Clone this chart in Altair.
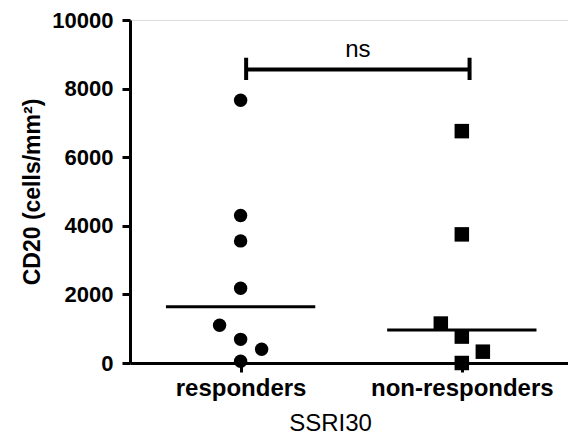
import altair as alt
import pandas as pd
import numpy as np

# ---- data ----
groups = ["responders", "non-responders"]
group_pos = [1, 3]

resp_values = [7660, 4300, 3560, 2180, 1100, 690, 400, 50]
resp_jitter = [0, 0, 0, 0, -0.19, 0, 0.19, 0]

nonresp_values = [6760, 3750, 1150, 770, 330, 0]
nonresp_jitter = [0, 0, -0.19, 0, 0.19, 0]

median_halfwidth = 0.675
bracket_x = [1.05, 3.07]
bracket_y = 8560
bracket_tick = [8250, 8900]
bracket_label = "ns"
label_y = 9130

y_ticks = [0, 2000, 4000, 6000, 8000, 10000]

FONT = "Liberation Sans"

resp_df = pd.DataFrame({
    "x": [group_pos[0] + j for j in resp_jitter],
    "y": resp_values,
})
nonresp_df = pd.DataFrame({
    "x": [group_pos[1] + j for j in nonresp_jitter],
    "y": nonresp_values,
})
med_df = pd.DataFrame({
    "x": [p - median_halfwidth for p in group_pos],
    "x2": [p + median_halfwidth for p in group_pos],
    "y": [float(np.median(resp_values)), float(np.median(nonresp_values))],
})
br_h = pd.DataFrame({"x": [bracket_x[0]], "x2": [bracket_x[1]], "y": [bracket_y]})
br_v = pd.DataFrame({"x": bracket_x, "y": [bracket_tick[0]] * 2, "y2": [bracket_tick[1]] * 2})
txt = pd.DataFrame({"x": [sum(bracket_x) / 2], "y": [label_y], "t": [bracket_label]})

xscale = alt.Scale(domain=[0, 3.96], nice=False, zero=False)
yscale = alt.Scale(domain=[0, 10000], nice=False)

label_expr = "datum.value == %d ? '%s' : '%s'" % (group_pos[0], groups[0], groups[1])

x_axis = alt.Axis(
    values=group_pos, labelExpr=label_expr, title="SSRI30",
    grid=False, domainWidth=3, domainColor="black", tickWidth=3, tickColor="black",
    tickSize=9, labelFont=FONT, labelFontSize=24, labelFontWeight="bold", labelColor="black",
    labelPadding=4, labelLimit=0, titleFont=FONT, titleFontSize=24, titleFontWeight="normal",
    titleColor="black", titleX=200, titleY=67, titleBaseline="alphabetic",
    labelFlush=False,
)
y_axis = alt.Axis(
    values=y_ticks, format="d", title="CD20 (cells/mm²)", grid=False, domainWidth=3,
    domainColor="black", tickWidth=3, tickColor="black", tickSize=8, labelFont=FONT,
    labelFontSize=22, labelFontWeight="bold", labelColor="black", labelPadding=9,
    titleFont=FONT, titleFontSize=23, titleFontWeight="bold", titleColor="black",
    titlePadding=7, labelFlush=False,
)

X = alt.X("x:Q", scale=xscale, axis=x_axis)
Y = alt.Y("y:Q", scale=yscale, axis=y_axis)

pts_r = alt.Chart(resp_df).mark_point(shape="circle", filled=True, color="black", opacity=1, size=180).encode(
    x=X, y=Y,
)
pts_n = alt.Chart(nonresp_df).mark_point(shape="square", filled=True, color="black", opacity=1, size=210).encode(
    x=X, y=Y,
)
med = alt.Chart(med_df).mark_rule(color="black", strokeWidth=3).encode(
    x=X, x2="x2:Q", y=Y,
)
bh = alt.Chart(br_h).mark_rule(color="black", strokeWidth=4).encode(
    x=X, x2="x2:Q", y=Y,
)
bv = alt.Chart(br_v).mark_rule(color="black", strokeWidth=4).encode(
    x=X, y=Y, y2="y2:Q",
)
tx = alt.Chart(txt).mark_text(font=FONT, fontSize=24, color="black", baseline="middle", align="center").encode(
    x=X, y=Y, text="t:N",
)

chart = alt.layer(med, bh, bv, tx, pts_r, pts_n).properties(
    width=438, height=343,
    padding={"left": 122, "top": 12, "right": 0, "bottom": 71},
    autosize=alt.AutoSizeParams(type="none"),
).configure_view(strokeWidth=0, stroke="transparent").configure(background="white")

chart.save("out.html", embed_options={"renderer": "svg", "actions": False})
